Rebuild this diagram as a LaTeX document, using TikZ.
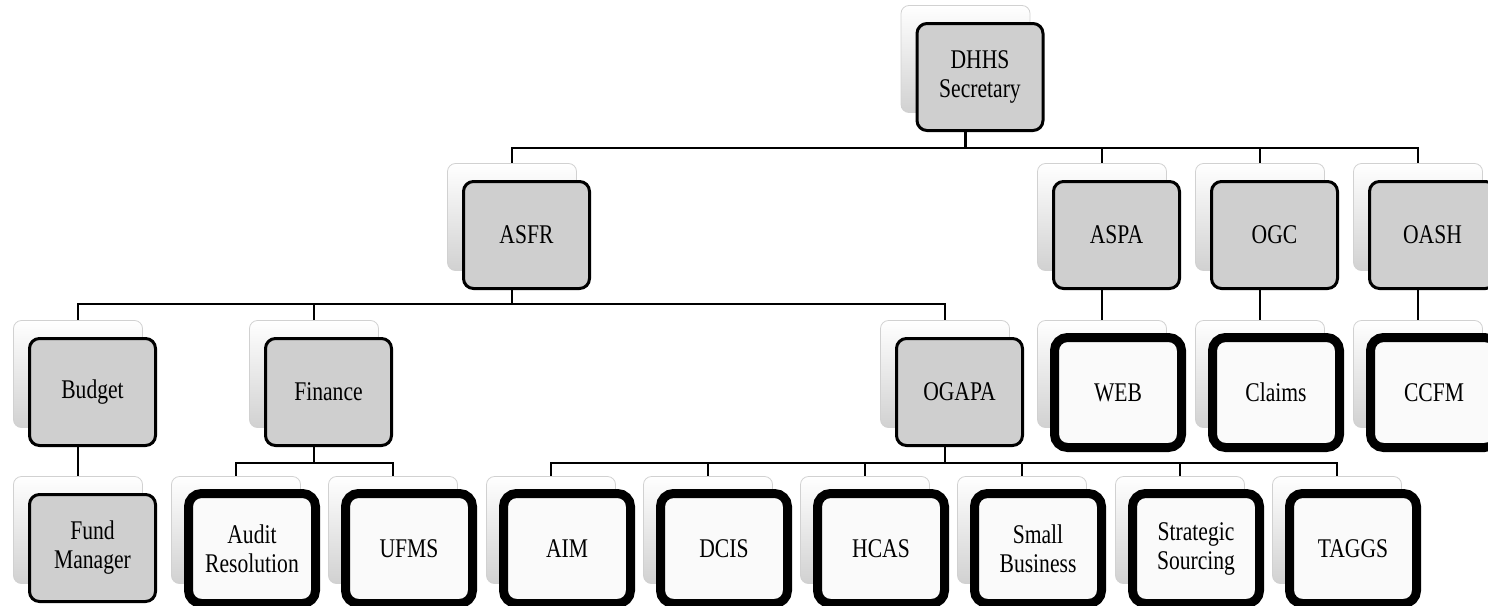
\documentclass[tikz,border=0pt]{standalone}
\usepackage{fontspec}
\newfontfamily\boxfont{Liberation Serif}[FakeStretch=0.8]
\usetikzlibrary{calc,backgrounds}
\tikzset{
  backbox/.style={rounded corners=8pt, minimum width=129pt, minimum height=107pt,
    draw=black!18, line width=0.8pt, top color=white, bottom color=black!18, inner sep=0pt},
  boxtext/.style={font=\boxfont\fontsize{27}{29}\selectfont, align=center, inner sep=0pt, text=black},
  grayfront/.style={boxtext, rounded corners=10pt, minimum width=126pt, minimum height=107pt,
    draw=black, line width=3pt, fill=black!19},
  thickfront/.style={boxtext, rounded corners=13pt, minimum width=127pt, minimum height=110pt,
    draw=black, line width=9pt, fill=black!2},
  conn/.style={line width=2.6pt, draw=black},
}
\newcommand\unitG[4]{%
  \node[backbox] (#1) at (#2,#3) {};
  \node[grayfront] (#1f) at ($(#1)+(14.5,18)$) {#4};}
\newcommand\unitT[4]{%
  \node[backbox] (#1) at (#2,#3) {};
  \node[thickfront] (#1f) at ($(#1)+(16,18.5)$) {#4};}
\begin{document}
\begin{tikzpicture}[x=1pt,y=-1pt]
\useasboundingbox (0,0) rectangle (1488,605);
\clip (0,0) rectangle (1488,605);
% level 1
\unitG{dhhs}{965.5}{59}{DHHS\\Secretary}
% level 2
\unitG{asfr}{512}{217}{ASFR}
\unitG{aspa}{1102}{217}{ASPA}
\unitG{ogc}{1260}{217}{OGC}
\unitG{oash}{1418}{217}{OASH}
% level 3
\unitG{budget}{78}{374}{Budget}
\unitG{finance}{314}{374}{Finance}
\unitG{ogapa}{945}{374}{OGAPA}
\unitT{web}{1102}{374}{WEB}
\unitT{claims}{1260}{374}{Claims}
\unitT{ccfm}{1418}{374}{CCFM}
% level 4
\unitG{fund}{78}{530}{Fund\\Manager}
\unitT{audit}{236}{530}{Audit\\Resolution}
\unitT{ufms}{393}{530}{UFMS}
\unitT{aim}{551}{530}{AIM}
\unitT{dcis}{708}{530}{DCIS}
\unitT{hcas}{865}{530}{HCAS}
\unitT{small}{1022}{530}{Small\\Business}
\unitT{strat}{1180}{530}{Strategic\\Sourcing}
\unitT{taggs}{1337}{530}{TAGGS}
% buses
\coordinate (busA) at (0,148);
\coordinate (busB) at (0,304);
\coordinate (busC) at (0,463);
\begin{pgfonlayer}{background}
\foreach \c in {asfr,aspa,ogc,oash}
  \draw[conn] (dhhs.center) |- (busA -| \c) -- (\c.north);
\foreach \c in {budget,finance,ogapa}
  \draw[conn] (asfr.center) |- (busB -| \c) -- (\c.north);
\foreach \c in {audit,ufms}
  \draw[conn] (finance.center) |- (busC -| \c) -- (\c.north);
\foreach \c in {aim,dcis,hcas,small,strat,taggs}
  \draw[conn] (ogapa.center) |- (busC -| \c) -- (\c.north);
\draw[conn] (budget.center) -- (fund.north);
\draw[conn] (aspa.center) -- (web.north);
\draw[conn] (ogc.center) -- (claims.north);
\draw[conn] (oash.center) -- (ccfm.north);
\end{pgfonlayer}
\end{tikzpicture}
\end{document}
